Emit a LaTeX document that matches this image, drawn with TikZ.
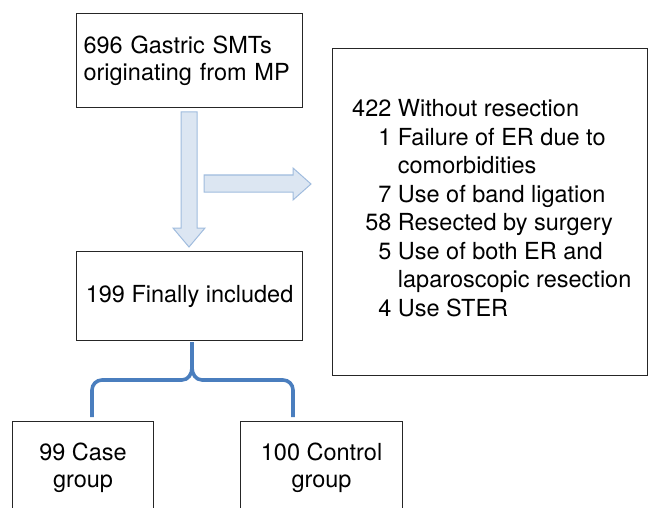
\documentclass[tikz,border=0pt]{standalone}
\usepackage{fontspec}
\setmainfont{TeX Gyre Heros}
\definecolor{arrowfill}{RGB}{220,230,242}
\definecolor{arrowline}{RGB}{160,188,222}
\definecolor{bracecol}{RGB}{74,126,190}
\begin{document}
\begin{tikzpicture}[x=1pt,y=-1pt,
  box/.style={draw=black!85,line width=1.1pt,rectangle,inner sep=0pt,font=\fontsize{23.5}{27}\selectfont},
  blockarrow/.style={fill=arrowfill,draw=arrowline,line width=1pt,line join=miter},
  bracepath/.style={draw=bracecol,line width=3.6pt}]
\useasboundingbox (0,0) rectangle (648,508);
\node[box, minimum width=226pt, minimum height=94pt, text width=212pt, align=left, anchor=north west] (start) at (76,13) {696 Gastric SMTs\\originating from MP};
\node[box, minimum width=226pt, minimum height=89pt, anchor=north west] (incl) at (76,251) {199 Finally included};
\node[box, minimum width=315pt, minimum height=327pt, anchor=north west] (excl) at (332,48) {};
\node[anchor=west, inner sep=0pt, font=\fontsize{23.5}{28.5}\selectfont] (excltext) at (352,211) {%
\begin{tabular}{@{}r@{\hspace{6.5pt}}l@{}}
422 & Without resection\\
1 & Failure of ER due to\\
 & comorbidities\\
7 & Use of band ligation\\
58 & Resected by surgery\\
5 & Use of both ER and\\
 & laparoscopic resection\\
4 & Use STER
\end{tabular}};
\node[box, minimum width=141pt, minimum height=92pt, align=center, anchor=north west] (case) at (12,421) {99 Case\\group};
\node[box, minimum width=162pt, minimum height=92pt, align=center, anchor=north west] (ctrl) at (240,421) {100 Control\\group};
% block arrows
\draw[blockarrow] (181,112) -- (197,112) -- (197,228) -- (205,228) -- (189,247) -- (173,228) -- (181,228) -- cycle;
\draw[blockarrow] (204,175) -- (293,175) -- (293,168) -- (311,184) -- (293,200) -- (293,192) -- (204,192) -- cycle;
% brace
\coordinate (bt) at (192,342);
\coordinate (bm) at (192,368);
\coordinate (bl) at (92,417);
\coordinate (br) at (293,417);
\draw[bracepath] (bt) -- (bm) to[out=-90,in=0] (182,380) -- (102,380) to[out=180,in=90] (92,390) -- (bl);
\draw[bracepath] (bm) to[out=-90,in=180] (202,380) -- (283,380) to[out=0,in=90] (293,390) -- (br);
\end{tikzpicture}
\end{document}
